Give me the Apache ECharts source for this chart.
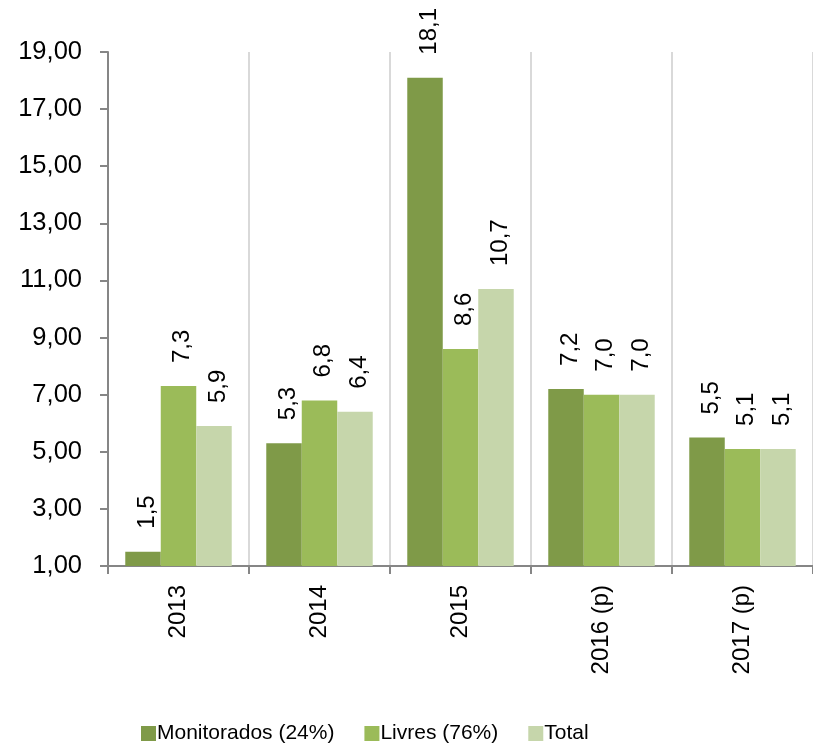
<!DOCTYPE html>
<html>
<head>
<meta charset="utf-8">
<script src="https://cdn.jsdelivr.net/npm/echarts@6/dist/echarts.min.js"></script>
<style>
  html, body { margin: 0; padding: 0; background: #ffffff; }
  #chart { width: 813px; height: 750px; }
</style>
</head>
<body>
<div id="chart"></div>
<script>
// Anos (p = projeção)
const categories = ['2013', '2014', '2015', '2016 (p)', '2017 (p)'];

// Variação anual por grupo de preços
const monitorados = [1.5, 5.3, 18.1, 7.2, 5.5];
const livres = [7.3, 6.8, 8.6, 7.0, 5.1];
const total = [5.9, 6.4, 10.7, 7.0, 5.1];

const seriesNames = ['Monitorados (24%)', 'Livres (76%)', 'Total'];
const seriesColors = ['#7f9a48', '#9bbb59', '#c6d6ab'];

const FONT = '"Liberation Sans", Arial, sans-serif';
const fmt1 = v => v.toFixed(1).replace('.', ',');
const fmt2 = v => v.toFixed(2).replace('.', ',');

function barSeries(name, data, color) {
  return {
    name: name,
    type: 'bar',
    data: data,
    barGap: '0%',
    barCategoryGap: '24.5%',
    itemStyle: { color: color },
    label: {
      show: true,
      position: 'top',
      distance: 23,
      rotate: 90,
      align: 'left',
      verticalAlign: 'middle',
      offset: [0, 4],
      color: '#000',
      fontFamily: FONT,
      fontSize: 24,
      formatter: p => fmt1(p.value)
    }
  };
}

const chart = echarts.init(document.getElementById('chart'), null, { renderer: 'canvas' });
chart.setOption({
  animation: false,
  backgroundColor: '#ffffff',
  grid: { left: 108, right: -11, top: 52, bottom: 184, containLabel: false },
  legend: {
    data: seriesNames,
    left: 141,
    top: 723,
    padding: 0,
    itemWidth: 15,
    itemHeight: 15,
    itemGap: 30,
    icon: 'rect',
    textStyle: { fontFamily: FONT, fontSize: 21, color: '#000', padding: [0, 0, 0, -4] }
  },
  xAxis: {
    type: 'category',
    data: categories,
    boundaryGap: true,
    axisLine: { lineStyle: { color: '#868686', width: 2 } },
    axisTick: { show: true, length: 8, interval: 0, lineStyle: { color: '#868686', width: 2 } },
    splitLine: { show: true, interval: 0, lineStyle: { color: '#d9d9d9', width: 2 } },
    axisLabel: {
      rotate: 90,
      interval: 0,
      margin: 19,
      color: '#000',
      fontFamily: FONT,
      fontSize: 24
    }
  },
  yAxis: {
    type: 'value',
    min: 1,
    max: 19,
    interval: 2,
    axisLine: { show: true, lineStyle: { color: '#868686', width: 2 } },
    axisTick: { show: true, length: 8, lineStyle: { color: '#868686', width: 2 } },
    splitLine: { show: false },
    axisLabel: {
      margin: 26,
      color: '#000',
      fontFamily: FONT,
      fontSize: 25.5,
      formatter: v => fmt2(v)
    }
  },
  series: [
    barSeries(seriesNames[0], monitorados, seriesColors[0]),
    barSeries(seriesNames[1], livres, seriesColors[1]),
    barSeries(seriesNames[2], total, seriesColors[2])
  ]
});
</script>
</body>
</html>
